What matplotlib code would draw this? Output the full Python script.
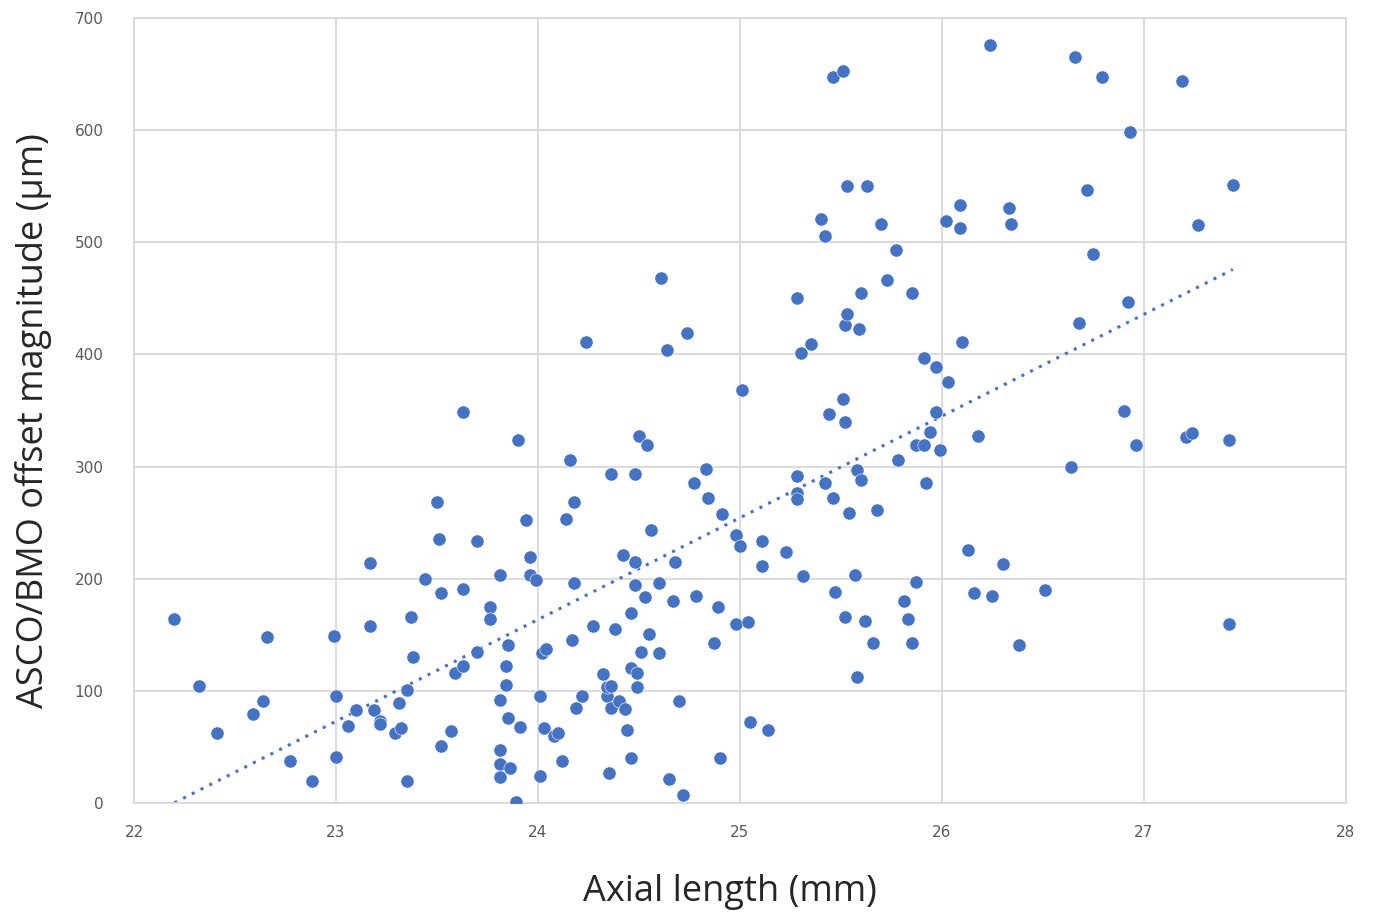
import matplotlib
matplotlib.use("Agg")
import matplotlib.pyplot as plt
import numpy as np

# Axial length (mm) and ASCO/BMO offset magnitude (um)
axial_length = [
    22.20, 22.32, 22.41, 22.59, 22.64, 22.66, 22.77, 22.88, 22.99, 23.00,
    23.00, 23.06, 23.10, 23.17, 23.17, 23.19, 23.22, 23.22, 23.29, 23.31,
    23.32, 23.35, 23.35, 23.37, 23.38, 23.44, 23.50, 23.51, 23.52, 23.52,
    23.57, 23.59, 23.63, 23.63, 23.63, 23.70, 23.70, 23.76, 23.76, 23.81,
    23.81, 23.81, 23.81, 23.81, 23.84, 23.85, 23.84, 23.85, 23.86, 23.89,
    23.90, 23.91, 23.94, 23.96, 23.96, 23.99, 24.01, 24.01, 24.02, 24.03,
    24.04, 24.08, 24.10, 24.12, 24.14, 24.16, 24.17, 24.18, 24.18, 24.19,
    24.22, 24.24, 24.27, 24.32, 24.34, 24.34, 24.36, 24.36, 24.36, 24.35,
    24.38, 24.40, 24.42, 24.43, 24.44, 24.46, 24.46, 24.46, 24.48, 24.48,
    24.48, 24.49, 24.49, 24.51, 24.50, 24.53, 24.54, 24.55, 24.56, 24.60,
    24.60, 24.61, 24.64, 24.65, 24.67, 24.68, 24.70, 24.72, 24.74, 24.77,
    24.78, 24.83, 24.84, 24.87, 24.89, 24.90, 24.91, 24.98, 24.98, 25.00,
    25.01, 25.04, 25.05, 25.11, 25.11, 25.14, 25.23, 25.28, 25.28, 25.28,
    25.28, 25.30, 25.31, 25.35, 25.40, 25.42, 25.42, 25.44, 25.46, 25.46,
    25.47, 25.51, 25.51, 25.52, 25.52, 25.53, 25.52, 25.53, 25.54, 25.57,
    25.58, 25.58, 25.59, 25.60, 25.60, 25.62, 25.63, 25.66, 25.68, 25.70,
    25.73, 25.77, 25.78, 25.81, 25.83, 25.85, 25.85, 25.87, 25.87, 25.91,
    25.91, 25.92, 25.94, 25.97, 25.97, 25.99, 26.02, 26.03, 26.09, 26.09,
    26.10, 26.13, 26.16, 26.18, 26.24, 26.25, 26.30, 26.33, 26.34, 26.38,
    26.51, 26.64, 26.66, 26.68, 26.72, 26.75, 26.79, 26.90, 26.92, 26.93,
    26.96, 27.19, 27.21, 27.24, 27.27, 27.42, 27.42, 27.44,
]
offset = [
    164, 104, 62, 79, 91, 148, 37, 20, 149, 95,
    41, 69, 83, 214, 158, 83, 73, 70, 62, 89,
    67, 101, 20, 166, 130, 200, 268, 235, 187, 51,
    64, 116, 349, 191, 122, 234, 135, 175, 164, 203,
    92, 47, 35, 23, 122, 141, 105, 76, 31, 1,
    324, 68, 252, 203, 219, 199, 95, 24, 134, 67,
    137, 60, 62, 37, 253, 306, 145, 268, 196, 85,
    95, 411, 158, 115, 95, 103, 293, 104, 85, 27,
    155, 91, 221, 84, 65, 169, 40, 120, 215, 194,
    293, 116, 103, 135, 327, 184, 319, 151, 243, 134,
    196, 468, 404, 21, 180, 215, 91, 7, 419, 285,
    185, 298, 272, 143, 175, 40, 258, 239, 160, 229,
    368, 161, 72, 234, 211, 65, 224, 450, 292, 276,
    271, 401, 202, 409, 521, 506, 285, 347, 647, 272,
    188, 653, 360, 340, 426, 436, 166, 550, 259, 203,
    297, 112, 423, 455, 288, 162, 550, 143, 261, 516,
    466, 493, 306, 180, 164, 455, 143, 197, 319, 397,
    319, 285, 331, 389, 349, 315, 519, 375, 513, 533,
    411, 226, 187, 327, 676, 185, 213, 531, 516, 141,
    190, 300, 665, 428, 547, 490, 647, 350, 447, 598,
    319, 644, 326, 330, 515, 324, 160, 551,
]

x_ticks = [22, 23, 24, 25, 26, 27, 28]
y_ticks = [0, 100, 200, 300, 400, 500, 600, 700]

x = np.array(axial_length)
y = np.array(offset)

blue = "#4472C4"
grid_grey = "#D9D9D9"
text_grey = "#595959"

fig = plt.figure(figsize=(13.73, 9.16), dpi=100)
ax = fig.add_axes([0.0976, 0.1234, 0.8827, 0.8569])

ax.scatter(x, y, s=90, color=blue, edgecolors="white", linewidths=0.4, zorder=3)

# linear trendline (least squares) over the data range
slope, intercept = np.polyfit(x, y, 1)
xt = np.array([x.min(), x.max()])
ax.plot(xt, slope * xt + intercept, color=blue, linestyle=(0, (1, 2.2)),
        linewidth=2.2, zorder=2)

ax.set_xlim(22, 28)
ax.set_ylim(0, 700)
ax.set_xticks(x_ticks)
ax.set_yticks(y_ticks)
ax.tick_params(length=0, labelsize=11, labelcolor=text_grey, pad=22)
ax.tick_params(axis="x", pad=16)
ax.grid(True, color=grid_grey, linewidth=1.3, zorder=0)
ax.set_axisbelow(True)
for sp in ax.spines.values():
    sp.set_color(grid_grey)
    sp.set_linewidth(1.3)

ax.set_xlabel("Axial length (mm)", fontsize=26, color="#262626", family="Open Sans")
ax.set_ylabel("ASCO/BMO offset magnitude (μm)", fontsize=26, color="#262626",
              family="Open Sans")
ax.xaxis.set_label_coords(0.492, -0.09)
ax.yaxis.set_label_coords(-0.068, 0.487)

fig.savefig("out.png", dpi=100)
